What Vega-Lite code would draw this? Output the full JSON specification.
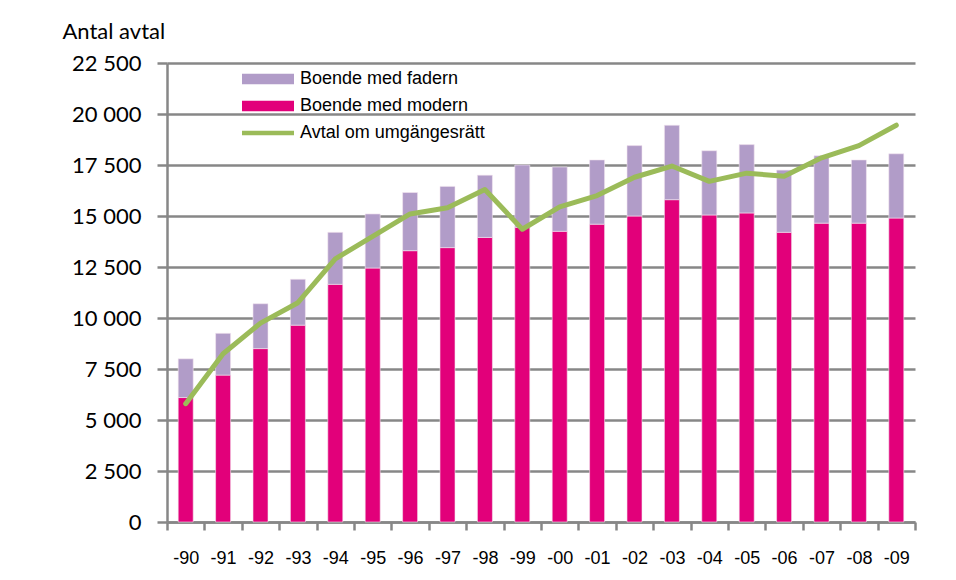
{
  "$schema": "https://vega.github.io/schema/vega-lite/v6.json",
  "width": 748,
  "height": 459,
  "autosize": {"type": "none"},
  "padding": {"left": 167, "top": 63, "right": 41, "bottom": 58},
  "background": "white",
  "config": {
    "view": {"stroke": null},
    "axis": {"domainColor": "#878787", "tickColor": "#878787", "gridColor": "#878787"}
  },
  "datasets": {
    "bars": [
      {"year": "-90", "serie": "Boende med modern", "antal": 6100},
      {"year": "-91", "serie": "Boende med modern", "antal": 7200},
      {"year": "-92", "serie": "Boende med modern", "antal": 8500},
      {"year": "-93", "serie": "Boende med modern", "antal": 9650},
      {"year": "-94", "serie": "Boende med modern", "antal": 11650},
      {"year": "-95", "serie": "Boende med modern", "antal": 12450},
      {"year": "-96", "serie": "Boende med modern", "antal": 13300},
      {"year": "-97", "serie": "Boende med modern", "antal": 13450},
      {"year": "-98", "serie": "Boende med modern", "antal": 13950},
      {"year": "-99", "serie": "Boende med modern", "antal": 14450},
      {"year": "-00", "serie": "Boende med modern", "antal": 14250},
      {"year": "-01", "serie": "Boende med modern", "antal": 14600},
      {"year": "-02", "serie": "Boende med modern", "antal": 15000},
      {"year": "-03", "serie": "Boende med modern", "antal": 15800},
      {"year": "-04", "serie": "Boende med modern", "antal": 15050},
      {"year": "-05", "serie": "Boende med modern", "antal": 15150},
      {"year": "-06", "serie": "Boende med modern", "antal": 14200},
      {"year": "-07", "serie": "Boende med modern", "antal": 14650},
      {"year": "-08", "serie": "Boende med modern", "antal": 14650},
      {"year": "-09", "serie": "Boende med modern", "antal": 14900},
      {"year": "-90", "serie": "Boende med fadern", "antal": 1900},
      {"year": "-91", "serie": "Boende med fadern", "antal": 2050},
      {"year": "-92", "serie": "Boende med fadern", "antal": 2200},
      {"year": "-93", "serie": "Boende med fadern", "antal": 2250},
      {"year": "-94", "serie": "Boende med fadern", "antal": 2550},
      {"year": "-95", "serie": "Boende med fadern", "antal": 2650},
      {"year": "-96", "serie": "Boende med fadern", "antal": 2850},
      {"year": "-97", "serie": "Boende med fadern", "antal": 3000},
      {"year": "-98", "serie": "Boende med fadern", "antal": 3050},
      {"year": "-99", "serie": "Boende med fadern", "antal": 3050},
      {"year": "-00", "serie": "Boende med fadern", "antal": 3150},
      {"year": "-01", "serie": "Boende med fadern", "antal": 3150},
      {"year": "-02", "serie": "Boende med fadern", "antal": 3450},
      {"year": "-03", "serie": "Boende med fadern", "antal": 3650},
      {"year": "-04", "serie": "Boende med fadern", "antal": 3150},
      {"year": "-05", "serie": "Boende med fadern", "antal": 3350},
      {"year": "-06", "serie": "Boende med fadern", "antal": 3050},
      {"year": "-07", "serie": "Boende med fadern", "antal": 3300},
      {"year": "-08", "serie": "Boende med fadern", "antal": 3100},
      {"year": "-09", "serie": "Boende med fadern", "antal": 3150}
    ],
    "line": [
      {"year": "-90", "serie": "Avtal om umgängesrätt", "antal": 5800},
      {"year": "-91", "serie": "Avtal om umgängesrätt", "antal": 8250},
      {"year": "-92", "serie": "Avtal om umgängesrätt", "antal": 9750},
      {"year": "-93", "serie": "Avtal om umgängesrätt", "antal": 10750},
      {"year": "-94", "serie": "Avtal om umgängesrätt", "antal": 12900},
      {"year": "-95", "serie": "Avtal om umgängesrätt", "antal": 14000},
      {"year": "-96", "serie": "Avtal om umgängesrätt", "antal": 15100},
      {"year": "-97", "serie": "Avtal om umgängesrätt", "antal": 15400},
      {"year": "-98", "serie": "Avtal om umgängesrätt", "antal": 16300},
      {"year": "-99", "serie": "Avtal om umgängesrätt", "antal": 14350},
      {"year": "-00", "serie": "Avtal om umgängesrätt", "antal": 15450},
      {"year": "-01", "serie": "Avtal om umgängesrätt", "antal": 16000},
      {"year": "-02", "serie": "Avtal om umgängesrätt", "antal": 16900},
      {"year": "-03", "serie": "Avtal om umgängesrätt", "antal": 17450},
      {"year": "-04", "serie": "Avtal om umgängesrätt", "antal": 16700},
      {"year": "-05", "serie": "Avtal om umgängesrätt", "antal": 17100},
      {"year": "-06", "serie": "Avtal om umgängesrätt", "antal": 16950},
      {"year": "-07", "serie": "Avtal om umgängesrätt", "antal": 17850},
      {"year": "-08", "serie": "Avtal om umgängesrätt", "antal": 18450},
      {"year": "-09", "serie": "Avtal om umgängesrätt", "antal": 19450}
    ]
  },
  "encoding": {
    "x": {
      "field": "year",
      "type": "nominal",
      "sort": null,
      "scale": {"paddingInner": 0, "paddingOuter": 0},
      "axis": {
        "title": null,
        "labelAngle": 0,
        "labelFont": "Liberation Sans",
        "labelFontSize": 18,
        "labelColor": "#000000",
        "labelPadding": 19,
        "tickBand": "extent",
        "tickSize": 8,
        "tickWidth": 2.5,
        "domainWidth": 2.5,
        "grid": false
      }
    },
    "y": {
      "field": "antal",
      "type": "quantitative",
      "scale": {"domain": [0, 22500], "nice": false},
      "axis": {
        "title": "Antal avtal",
        "titleAngle": 0,
        "titleFont": "Lato",
        "titleFontSize": 22,
        "titleFontWeight": "normal",
        "titleColor": "#000000",
        "titleAlign": "left",
        "titleBaseline": "alphabetic",
        "titleX": -105,
        "titleY": -25,
        "values": [0, 2500, 5000, 7500, 10000, 12500, 15000, 17500, 20000, 22500],
        "labelExpr": "replace(format(datum.value, ','), ',', ' ')",
        "labelFont": "Lato",
        "labelFontSize": 22,
        "labelColor": "#000000",
        "labelPadding": 16,
        "tickSize": 10,
        "tickWidth": 2.5,
        "domainWidth": 2.5,
        "grid": true,
        "gridWidth": 2.5
      }
    },
    "color": {
      "field": "serie",
      "type": "nominal",
      "scale": {
        "domain": ["Boende med fadern", "Boende med modern", "Avtal om umgängesrätt"],
        "range": ["#B19CC8", "#E2007A", "#9BBB59"]
      },
      "legend": {
        "title": null,
        "orient": "none",
        "legendX": 92,
        "legendY": 7,
        "padding": 0,
        "labelFont": "Liberation Sans",
        "labelFontSize": 18,
        "labelLimit": 500,
        "labelColor": "#000000",
        "labelOffset": 23,
        "symbolSize": 100,
        "rowPadding": 9,
        "encode": {
          "symbols": {
            "update": {
              "shape": {"signal": "datum.value === 'Avtal om umgängesrätt' ? 'M-5.2,-0.45H5.2V0.45H-5.2Z' : 'M-5.2,-1.04H5.2V1.04H-5.2Z'"},
              "fill": {"scale": "color", "field": "value"},
              "stroke": {"value": "transparent"},
              "strokeWidth": {"value": 0},
              "opacity": {"value": 1}
            }
          }
        }
      }
    }
  },
  "layer": [
    {
      "data": {"name": "bars"},
      "mark": {"type": "bar", "size": 15, "stroke": "#F3E6F0", "strokeWidth": 0.6},
      "encoding": {
        "y": {"field": "antal", "type": "quantitative", "stack": "zero"},
        "order": {"field": "serie", "sort": "descending"}
      }
    },
    {
      "data": {"name": "line"},
      "mark": {"type": "line", "strokeWidth": 5, "strokeCap": "round", "strokeJoin": "round"},
      "encoding": {}
    }
  ]
}
